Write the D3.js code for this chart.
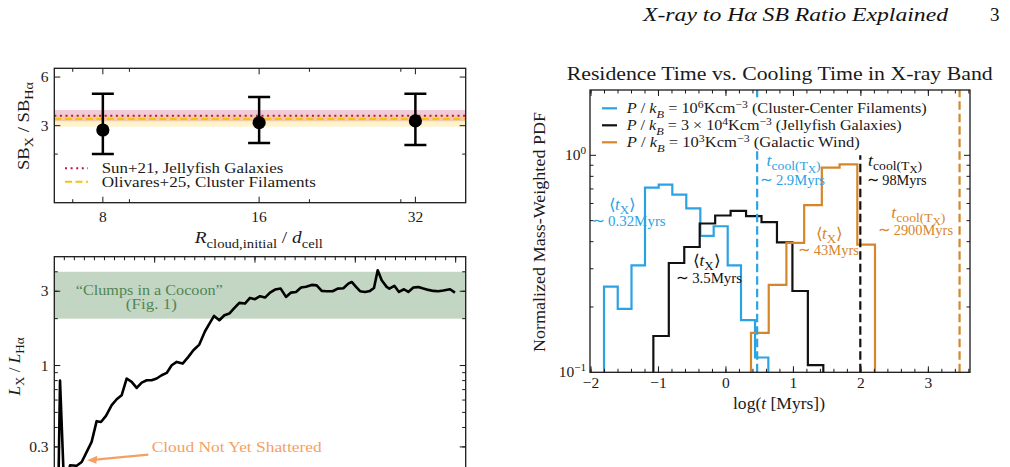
<!DOCTYPE html>
<html><head><meta charset="utf-8">
<script src="https://cdn.jsdelivr.net/npm/d3@7"></script>
<style>body{margin:0;background:#fff}svg{display:block}text{white-space:pre}</style>
</head><body>
<svg id="c" width="1010" height="467"></svg>
<script>
// ---------------- DATA ----------------
// Top-left: SB ratio vs resolution
const resolutions = [8, 16, 32];
const sbRatio = [2.82, 3.13, 3.21];
const sbLow = [2.0, 2.34, 2.28];
const sbHigh = [4.73, 4.52, 4.73];
const obsLabels = ["Sun+21, Jellyfish Galaxies", "Olivares+25, Cluster Filaments"];
const obsValue = [3.45, 3.30];
const obsLow = [3.20, 2.96];
const obsHigh = [3.75, 3.49];
const tlXTicks = [8, 16, 32];
const tlXMinor = [7, 9, 20, 30];
const tlYTicks = [3, 6];
const tlYMinor = [2];

// Bottom-left: luminosity ratio vs time
const lumTime = [0.40,0.57,1.00,1.57,2.23,2.73,3.23,3.72,4.22,4.65,5.15,5.72,6.22,6.71,7.21,7.71,8.21,8.71,9.21,9.70,10.20,10.70,11.20,11.70,12.20,12.79,13.36,13.86,14.45,15.02,15.52,15.92,16.45,16.95,17.44,17.84,18.44,19.00,19.50,20.00,20.50,21.00,21.50,22.00,22.56,23.09,23.59,24.09,24.59,25.09,25.65,26.15,26.65,27.15,27.74,28.24,28.81,29.30,29.64,30.07,30.47,30.97,31.46,31.86,32.23,32.63,33.12,33.39,33.89,34.35,34.85,35.28,35.78,36.28,36.78,37.28,37.78,38.27,38.77,39.44,39.93];
const lumRatio = [0.15,0.80,0.15,0.229,0.227,0.240,0.279,0.323,0.439,0.434,0.475,0.556,0.607,0.644,0.825,0.785,0.718,0.777,0.804,0.804,0.825,0.866,0.896,1.004,1.055,1.029,1.136,1.254,1.363,1.66,1.887,2.083,1.954,2.104,2.156,2.30,2.525,2.50,2.718,2.666,2.786,2.732,2.94,3.075,3.12,2.759,2.94,2.97,3.167,3.21,3.295,3.27,3.015,3.0,3.0,3.12,3.135,3.36,3.44,3.20,3.0,2.97,3.015,3.15,4.09,3.53,3.20,3.12,3.25,2.97,3.09,2.97,3.167,3.19,3.12,3.06,3.015,3.0,3.03,3.09,2.94];
const cocoonBand = [2, 4];
const blYTicks = [0.3, 1, 3];
const blYTickLabels = ["0.3", "1", "3"];

// Right: residence time histograms
const seriesNames = ["(Cluster-Center Filaments)", "(Jellyfish Galaxies)", "(Galactic Wind)"];
const pressureMant = ["10", "3 \u00d7 10", "10"];
const pressureExp = ["6", "4", "3"];
const seriesColors = ["#2ba3e3", "#111111", "#d6862a"];
const blueEdges = [-1.807,-1.604,-1.400,-1.200,-0.997,-0.795,-0.588,-0.380,-0.182,0.026,0.223,0.431,0.628];
const blueHeights = [0.248,0.196,0.311,0.710,0.733,0.659,0.569,0.425,0.471,0.311,0.174,0.117];
const blackEdges = [-1.076,-0.847,-0.618,-0.389,-0.160,0.069,0.298,0.527,0.756,0.985,1.214,1.443];
const blackHeights = [0.147,0.319,0.378,0.485,0.528,0.554,0.524,0.492,0.397,0.237,0.108];
const orangeEdges = [0.371,0.634,0.896,1.159,1.421,1.684,1.947,2.209];
const orangeHeights = [0.152,0.253,0.395,0.589,0.878,0.909,0.388];
const tCool = [2.9, 98, 2900];          // Myrs
const tCoolLabel = ["2.9Myrs", "98Myrs", "2900Myrs"];
const tMeanLabel = ["0.32Myrs", "3.5Myrs", "43Myrs"];
const rXTicks = [-2, -1, 0, 1, 2, 3];
const rYTicks = [0.1, 1];

// ---------------- HELPERS ----------------
const svg = d3.select("#c");
const FONT = "'Liberation Serif', 'Times New Roman', serif";
const INK = "#1a1a1a";

function rich(g, x, y, segs, o) {
  const t = g.append("text").attr("x", x).attr("y", y)
    .attr("font-family", FONT).attr("font-size", o.size)
    .attr("fill", o.color || INK).attr("text-anchor", o.anchor || "start");
  if (o.rotate) t.attr("transform", `rotate(${o.rotate},${x},${y})`);
  if (o.width) t.attr("textLength", o.width).attr("lengthAdjust", "spacingAndGlyphs");
  let shift = 0;
  segs.forEach(s => {
    const [txt, kind] = typeof s === "string" ? [s, ""] : s;
    let target = 0, fs = o.size;
    if (kind.includes("b")) { target = o.size * 0.28; fs = o.size * 0.76; }
    if (kind.includes("p")) { target = -o.size * 0.38; fs = o.size * 0.72; }
    if (kind.includes("q")) { target = o.size * 0.42; fs = o.size * 0.62; }
    const ts = t.append("tspan").text(txt).attr("font-size", fs);
    if (kind.includes("i")) ts.attr("font-style", "italic");
    if (target !== shift) { ts.attr("dy", target - shift); shift = target; }
  });
  return t;
}
function plain(g, x, y, txt, o) { return rich(g, x, y, [txt], o); }

function frame(g, box) {
  g.append("rect").attr("x", box.x0).attr("y", box.y0)
    .attr("width", box.x1 - box.x0).attr("height", box.y1 - box.y0)
    .attr("fill", "none").attr("stroke", INK).attr("stroke-width", 1.3);
}
function xTicks(g, sc, vals, len, box) {
  vals.forEach(v => {
    const x = sc(v);
    if (x < box.x0 + 0.5 || x > box.x1 - 0.5) return;
    g.append("line").attr("x1", x).attr("x2", x).attr("y1", box.y1).attr("y2", box.y1 - len).attr("stroke", INK).attr("stroke-width", 1);
    g.append("line").attr("x1", x).attr("x2", x).attr("y1", box.y0).attr("y2", box.y0 + len).attr("stroke", INK).attr("stroke-width", 1);
  });
}
function yTicks(g, sc, vals, len, box) {
  vals.forEach(v => {
    const y = sc(v);
    if (y < box.y0 + 0.5 || y > box.y1 - 0.5) return;
    g.append("line").attr("y1", y).attr("y2", y).attr("x1", box.x0).attr("x2", box.x0 + len).attr("stroke", INK).attr("stroke-width", 1);
    g.append("line").attr("y1", y).attr("y2", y).attr("x1", box.x1).attr("x2", box.x1 - len).attr("stroke", INK).attr("stroke-width", 1);
  });
}
function clip(id, box) {
  svg.append("clipPath").attr("id", id).append("rect")
    .attr("x", box.x0).attr("y", box.y0).attr("width", box.x1 - box.x0).attr("height", box.y1 - box.y0);
}

// ---------------- HEADER ----------------
svg.append("text").attr("x", 643).attr("y", 21).attr("font-family", FONT).attr("font-style", "italic")
  .attr("font-size", 19).attr("fill", "#111").attr("textLength", 305).attr("lengthAdjust", "spacingAndGlyphs")
  .text("X-ray to H\u03b1 SB Ratio Explained");
svg.append("text").attr("x", 990).attr("y", 21).attr("font-family", FONT).attr("font-size", 19).attr("fill", "#111").text("3");

// ---------------- TOP-LEFT ----------------
{
  const box = { x0: 54.3, x1: 465.7, y0: 68.3, y1: 202.7 };
  const g = svg.append("g");
  const x = d3.scaleLog().domain([6.45, 40]).range([box.x0, box.x1]);
  const y = d3.scaleLog().domain([1, 6.8]).range([box.y1, box.y0]);
  clip("clipTL", box);
  const p = g.append("g").attr("clip-path", "url(#clipTL)");
  const obsColor = ["#c0154b", "#f5c20f"];
  const obsDash = ["2,3.6", "7,3.5"];
  obsLabels.forEach((n, i) => {
    p.append("rect").attr("x", box.x0).attr("width", box.x1 - box.x0)
      .attr("y", y(obsHigh[i])).attr("height", y(obsLow[i]) - y(obsHigh[i]))
      .attr("fill", obsColor[i]).attr("opacity", 0.22);
  });
  obsLabels.forEach((n, i) => {
    p.append("line").attr("x1", box.x0).attr("x2", box.x1).attr("y1", y(obsValue[i])).attr("y2", y(obsValue[i]))
      .attr("stroke", obsColor[i]).attr("stroke-width", 2).attr("stroke-dasharray", obsDash[i]);
  });
  resolutions.forEach((r, i) => {
    const cx = x(r);
    p.append("line").attr("x1", cx).attr("x2", cx).attr("y1", y(sbLow[i])).attr("y2", y(sbHigh[i])).attr("stroke", "#000").attr("stroke-width", 2.5);
    [sbLow[i], sbHigh[i]].forEach(v => p.append("line").attr("x1", cx - 11).attr("x2", cx + 11).attr("y1", y(v)).attr("y2", y(v)).attr("stroke", "#000").attr("stroke-width", 2.5));
    p.append("circle").attr("cx", cx).attr("cy", y(sbRatio[i])).attr("r", 6.6).attr("fill", "#000");
  });
  // legend
  const legW = [181.6, 214.3];
  obsLabels.forEach((n, i) => {
    const ly = 168.3 + i * 13.4;
    g.append("line").attr("x1", 65).attr("x2", 88).attr("y1", ly).attr("y2", ly)
      .attr("stroke", obsColor[i]).attr("stroke-width", 2).attr("stroke-dasharray", obsDash[i]);
    plain(g, 101.7, ly + 5, n, { size: 15, width: legW[i] });
  });
  frame(g, box);
  xTicks(g, x, tlXTicks, 6, box);
  xTicks(g, x, tlXMinor, 3.5, box);
  yTicks(g, y, tlYTicks, 6, box);
  yTicks(g, y, tlYMinor, 3.5, box);
  tlXTicks.forEach(v => plain(g, x(v), 221.5, String(v), { size: 15.5, anchor: "middle" }));
  tlYTicks.forEach(v => plain(g, 48.5, y(v) + 5, String(v), { size: 15.5, anchor: "end" }));
  rich(g, 258.8, 243, [["R", "i"], ["cloud,initial", "b"], " / ", ["d", "i"], ["cell", "b"]], { size: 17, anchor: "middle", width: 128 });
  rich(g, 29, 126, ["SB", ["X", "b"], " / SB", ["H\u03b1", "b"]], { size: 16, anchor: "middle", rotate: -90, width: 88 });
}

// ---------------- BOTTOM-LEFT ----------------
{
  const box = { x0: 54.3, x1: 465.7, y0: 256.7, y1: 521.2 };
  const g = svg.append("g");
  const x = d3.scaleLinear().domain([0, 41]).range([box.x0, box.x1]);
  const y = d3.scaleLog().domain([0.1, 5]).range([box.y1, box.y0]);
  clip("clipBL", box);
  const p = g.append("g").attr("clip-path", "url(#clipBL)");
  p.append("rect").attr("x", box.x0).attr("width", box.x1 - box.x0)
    .attr("y", y(cocoonBand[1])).attr("height", y(cocoonBand[0]) - y(cocoonBand[1])).attr("fill", "#c3d6c3");
  p.append("path").datum(lumTime.map((t, i) => [t, lumRatio[i]]))
    .attr("d", d3.line().x(d => x(d[0])).y(d => y(d[1])))
    .attr("fill", "none").attr("stroke", "#000").attr("stroke-width", 2.6).attr("stroke-linejoin", "round");
  // texts
  plain(g, 149.3, 295, "\u201cClumps in a Cocoon\u201d", { size: 15.5, color: "#4f8654", anchor: "middle", width: 147 });
  plain(g, 151.3, 308.5, "(Fig. 1)", { size: 15.5, color: "#4f8654", anchor: "middle", width: 51 });
  const ann = "#f5a062";
  plain(g, 151.7, 451.5, "Cloud Not Yet Shattered", { size: 15.5, color: ann, width: 170 });
  g.append("line").attr("x1", x(9.37)).attr("y1", y(0.268)).attr("x2", x(3.29) + 8).attr("y2", y(0.246) - 0.75)
    .attr("stroke", ann).attr("stroke-width", 2.2);
  {
    const tx = x(3.29), ty = y(0.246);
    g.append("path").attr("d", `M${tx},${ty} L${tx + 10},${ty - 4.5} L${tx + 9},${ty + 3.5} Z`).attr("fill", ann);
  }
  frame(g, box);
  xTicks(g, x, d3.range(0, 42, 1), 3.5, box);
  xTicks(g, x, d3.range(0, 42, 10), 6, box);
  const minor = [];
  [0.1, 1].forEach(dec => d3.range(1, 10).forEach(k => minor.push(dec * k)));
  yTicks(g, y, minor, 3.5, box);
  yTicks(g, y, blYTicks, 6, box);
  blYTicks.forEach((v, i) => plain(g, 48.5, y(v) + 5, blYTickLabels[i], { size: 15.5, anchor: "end" }));
  rich(g, 20, 366.5, [["L", "i"], ["X", "b"], " / ", ["L", "i"], ["H\u03b1", "b"]], { size: 16, anchor: "middle", rotate: -90, width: 58 });
}

// ---------------- RIGHT ----------------
{
  const box = { x0: 590, x1: 970, y0: 90, y1: 372.3 };
  const g = svg.append("g");
  const x = d3.scaleLinear().domain([-2.015, 3.617]).range([box.x0, box.x1]);
  const y = d3.scaleLog().domain([0.1, 2]).range([box.y1, box.y0]);
  clip("clipR", box);
  const p = g.append("g").attr("clip-path", "url(#clipR)");
  const hists = [[blueEdges, blueHeights], [blackEdges, blackHeights], [orangeEdges, orangeHeights]];
  hists.forEach(([e, h], i) => {
    const pts = [[e[0], 0.05]];
    h.forEach((v, k) => { pts.push([e[k], v]); pts.push([e[k + 1], v]); });
    pts.push([e[e.length - 1], 0.05]);
    p.append("path").attr("d", d3.line().x(d => x(d[0])).y(d => y(d[1]))(pts))
      .attr("fill", "none").attr("stroke", seriesColors[i]).attr("stroke-width", 2.2).attr("stroke-linejoin", "miter");
  });
  // cooling time lines
  const lineTop = [2, 1, 2];
  tCool.forEach((t, i) => {
    p.append("line").attr("x1", x(Math.log10(t))).attr("x2", x(Math.log10(t)))
      .attr("y1", y(0.1)).attr("y2", y(lineTop[i]))
      .attr("stroke", seriesColors[i]).attr("stroke-width", 2.2).attr("stroke-dasharray", "8.5,4");
  });
  // legend
  g.append("rect").attr("x", 596).attr("y", 99).attr("width", 338).attr("height", 52).attr("fill", "#fff");
  const legW = [300, 275, 233];
  seriesNames.forEach((n, i) => {
    const ly = 108.3 + i * 17;
    g.append("line").attr("x1", 602).attr("x2", 617).attr("y1", ly).attr("y2", ly).attr("stroke", seriesColors[i]).attr("stroke-width", 2.2);
    rich(g, 626.7, ly + 5, [["P", "i"], " / ", ["k", "i"], ["B", "bi"], " = " + pressureMant[i], [pressureExp[i], "p"], "Kcm", ["\u22123", "p"], " " + n], { size: 15, width: legW[i] });
  });
  // annotations
  const ac = seriesColors;
  const tx = (cx, cy, col, anchor) => rich(g, cx, cy, ["\u27e8", ["t", "i"], ["X", "b"], "\u27e9"], { size: 16, color: col, anchor, width: 27 });
  const tc = (cx, cy, col, anchor) => rich(g, cx, cy, [["t", "i"], ["cool(T", "b"], ["X", "q"], [")", "b"]], { size: 16, color: col, anchor, width: 54 });
  tx(622, 210, ac[0], "middle");
  plain(g, 628.7, 226, "\u223c " + tMeanLabel[0], { size: 15.5, color: ac[0], anchor: "middle", width: 74 });
  tx(706.7, 266, ac[1], "middle");
  plain(g, 709, 283, "\u223c " + tMeanLabel[1], { size: 15.5, color: ac[1], anchor: "middle", width: 66 });
  tx(829, 239, ac[2], "middle");
  plain(g, 828.5, 255, "\u223c " + tMeanLabel[2], { size: 15.5, color: ac[2], anchor: "middle", width: 61 });
  tc(766.5, 166, ac[0], "start");
  plain(g, 760, 185, "\u223c " + tCoolLabel[0], { size: 15.5, color: ac[0], width: 65 });
  tc(868, 166, ac[1], "start");
  plain(g, 866.7, 185, "\u223c " + tCoolLabel[1], { size: 15.5, color: ac[1], width: 60 });
  tc(918.3, 218, ac[2], "middle");
  plain(g, 915.5, 235, "\u223c " + tCoolLabel[2], { size: 15.5, color: ac[2], anchor: "middle", width: 75 });

  frame(g, box);
  xTicks(g, x, d3.range(-2, 3.61, 0.2).map(v => Math.round(v * 10) / 10), 3.5, box);
  xTicks(g, x, rXTicks, 6, box);
  yTicks(g, y, [0.2,0.3,0.4,0.5,0.6,0.7,0.8,0.9,2], 3.5, box);
  yTicks(g, y, rYTicks, 6, box);
  rXTicks.forEach(v => plain(g, x(v), 388, v < 0 ? "\u2212" + Math.abs(v) : String(v), { size: 15.5, anchor: "middle" }));
  rich(g, 586, y(1) + 5, ["10", ["0", "p"]], { size: 15.5, anchor: "end" });
  rich(g, 586, y(0.1) + 5, ["10", ["\u22121", "p"]], { size: 15.5, anchor: "end" });
  rich(g, 779, 409, ["log(", ["t", "i"], " [Myrs])"], { size: 17.5, anchor: "middle", width: 92 });
  plain(g, 545, 232, "Normalized Mass-Weighted PDF", { size: 17.5, anchor: "middle", rotate: -90, width: 240 });
  plain(g, 779.7, 80, "Residence Time vs. Cooling Time in X-ray Band", { size: 19.5, anchor: "middle", width: 426 });
}
</script>
</body></html>
